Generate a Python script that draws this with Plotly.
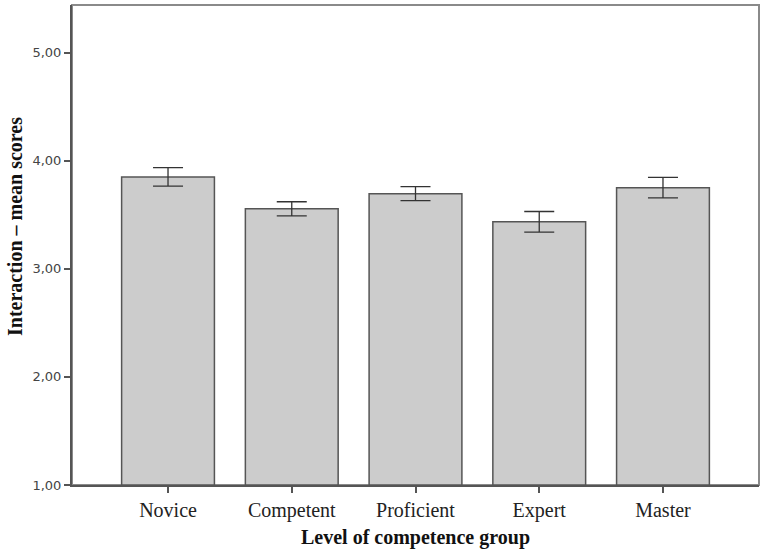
import plotly.graph_objects as go

categories = ["Novice", "Competent", "Proficient", "Expert", "Master"]
means = [3.85, 3.555, 3.695, 3.435, 3.75]
err = [0.085, 0.065, 0.065, 0.095, 0.095]
y_ticks = [1, 2, 3, 4, 5]

fig = go.Figure()
fig.add_trace(go.Bar(
    x=categories, y=[m - 1 for m in means], base=1,
    width=0.75,
    marker=dict(color="#cccccc", line=dict(color="#555555", width=1.5)),
    error_y=dict(type="data", array=err, color="#333333", thickness=1.3, width=15),
    showlegend=False,
))

fig.update_layout(
    width=765, height=551,
    margin=dict(l=72, r=6, t=5, b=66),
    plot_bgcolor="white", paper_bgcolor="white",
    separators=",.",
    shapes=[dict(type="rect", xref="paper", yref="paper", x0=0, x1=1, y0=0, y1=1,
                 line=dict(color="#8a8a8a", width=2), layer="below")],
    annotations=[dict(text="<b>Interaction – mean scores</b>", textangle=-90,
                      xref="paper", yref="paper", x=0, y=0.5375, xshift=-57,
                      xanchor="center", yanchor="middle", showarrow=False,
                      font=dict(family="Liberation Serif", size=20, color="#111111"))],
)
fig.update_xaxes(
    type="category", range=[-0.776, 4.776],
    showline=True, linecolor="#555555", linewidth=2,
    ticks="outside", ticklen=6, tickwidth=1.5, tickcolor="#555555",
    tickfont=dict(family="Liberation Serif", size=20, color="#222222"),
    showgrid=False,
    title=dict(text="<b>Level of competence group</b>",
               font=dict(family="Liberation Serif", size=20, color="#111111"), standoff=9),
)
fig.update_yaxes(
    range=[1, 5.44], tickvals=y_ticks, tickformat=".2f",
    showline=True, linecolor="#555555", linewidth=2,
    ticks="outside", ticklen=6, tickwidth=1.5, tickcolor="#555555",
    tickfont=dict(family="DejaVu Sans", size=13, color="#444444"),
    showgrid=False, zeroline=False,
)

fig.write_html("out.html", config={"displayModeBar": False},
               post_script="document.body.style.margin='0';")
